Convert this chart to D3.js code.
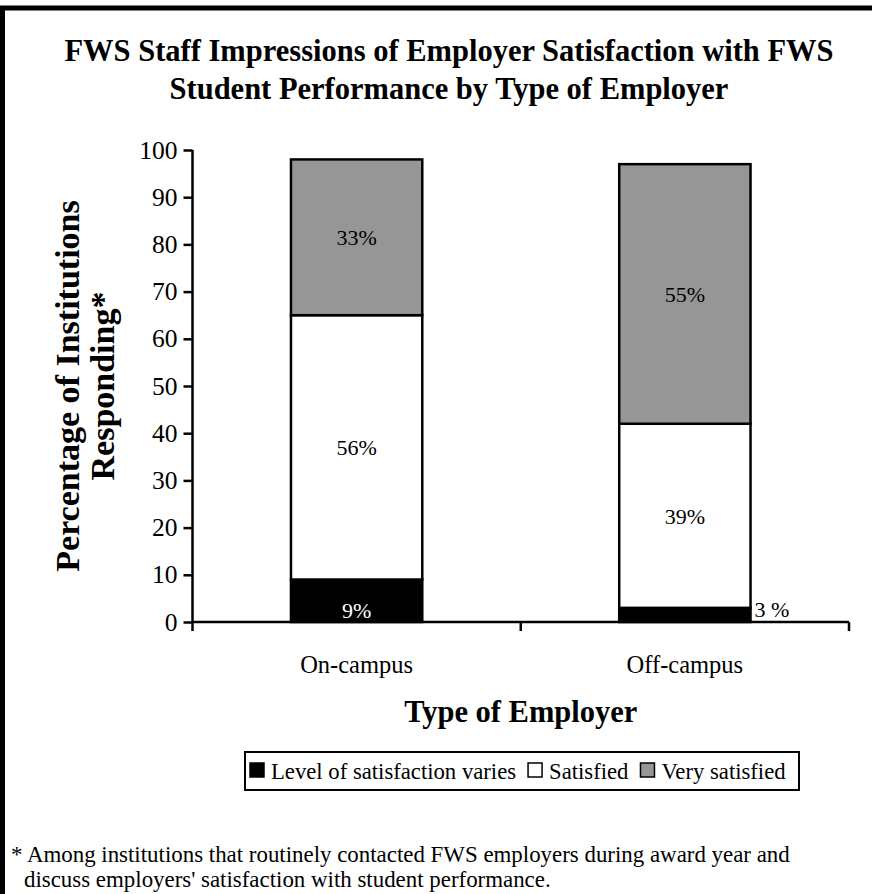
<!DOCTYPE html>
<html>
<head>
<meta charset="utf-8">
<script src="https://cdn.jsdelivr.net/npm/d3@7"></script>
<style>
  html, body { margin: 0; padding: 0; background: #fff; }
  svg { display: block; font-family: "Liberation Serif", "Times New Roman", serif; }
</style>
</head>
<body>
<svg id="chart" width="872" height="894"></svg>
<script>
// Employer types on the x axis
const categories = ["On-campus", "Off-campus"];
// Stacked series, percent of institutions responding
const seriesNames = ["Level of satisfaction varies", "Satisfied", "Very satisfied"];
const variesValues = [9, 3];
const satisfiedValues = [56, 39];
const verySatisfiedValues = [33, 55];
const seriesColors = ["#000000", "#ffffff", "#969696"];
const labelColors = ["#ffffff", "#000000", "#000000"];
const yTicks = [0, 10, 20, 30, 40, 50, 60, 70, 80, 90, 100];
const titleLines = ["FWS Staff Impressions of Employer Satisfaction with FWS",
                    "Student Performance by Type of Employer"];
const yTitleLines = ["Percentage of Institutions", "Responding*"];
const xTitle = "Type of Employer";
const footnoteLines = ["* Among institutions that routinely contacted FWS employers during award year and",
                       "discuss employers' satisfaction with student performance."];

const svg = d3.select("#chart");
const serif = "Liberation Serif";

// page frame (left and top rules)
svg.append("path")
  .attr("d", "M2.5,894 V8 H872")
  .attr("fill", "none").attr("stroke", "#000").attr("stroke-width", 5);

// title
svg.append("text")
  .attr("text-anchor", "middle")
  .attr("font-size", 30.5).attr("font-weight", "bold")
  .selectAll("tspan").data(titleLines).join("tspan")
  .attr("x", 449).attr("y", (d, i) => 61 + i * 38)
  .text(d => d);

const plot = { left: 192.5, right: 849, top: 150, bottom: 622 };

const x = d3.scaleBand().domain(categories)
  .range([plot.left, plot.right]).paddingInner(0.6).paddingOuter(0.3);
const xAxisScale = d3.scaleBand().domain(categories).range([plot.left, plot.right]);
const y = d3.scaleLinear().domain([0, 100]).range([plot.bottom, plot.top]);

// stack the three series
const rows = categories.map((c, i) => ({
  category: c,
  [seriesNames[0]]: variesValues[i],
  [seriesNames[1]]: satisfiedValues[i],
  [seriesNames[2]]: verySatisfiedValues[i]
}));
const stacked = d3.stack().keys(seriesNames)(rows);

const layers = svg.append("g").selectAll("g").data(stacked).join("g")
  .attr("fill", (d, i) => seriesColors[i]);

layers.selectAll("rect").data(d => d).join("rect")
  .attr("x", d => x(d.data.category))
  .attr("width", x.bandwidth())
  .attr("y", d => y(d[1]))
  .attr("height", d => y(d[0]) - y(d[1]))
  .attr("stroke", "#000").attr("stroke-width", 2.5);

// value labels: beside the bar for very thin segments, near the base for
// the bottom segment, centred otherwise
stacked.forEach((layer, si) => {
  layer.forEach(d => {
    const v = d[1] - d[0];
    const t = svg.append("text").attr("font-size", 22);
    if (v < 5) {
      t.attr("x", x(d.data.category) + x.bandwidth() + 4)
        .attr("y", y(d[0]) - 5)
        .attr("text-anchor", "start").attr("fill", "#000")
        .text(v + " %");
    } else if (si === 0) {
      t.attr("x", x(d.data.category) + x.bandwidth() / 2)
        .attr("y", y(d[0]) - 4)
        .attr("text-anchor", "middle").attr("fill", labelColors[si])
        .text(v + "%");
    } else {
      t.attr("x", x(d.data.category) + x.bandwidth() / 2)
        .attr("y", (y(d[0]) + y(d[1])) / 2)
        .attr("dy", "0.35em")
        .attr("text-anchor", "middle").attr("fill", labelColors[si])
        .text(v + "%");
    }
  });
});

// y axis
const yAxis = svg.append("g")
  .attr("transform", `translate(${plot.left},0)`)
  .call(d3.axisLeft(y).tickValues(yTicks).tickSize(9).tickPadding(6));
yAxis.attr("font-family", serif);
yAxis.select(".domain").attr("stroke-width", 2.5).attr("d", `M0,${plot.bottom}V${plot.top}`);
yAxis.selectAll(".tick line").attr("stroke-width", 2.5);
yAxis.selectAll(".tick text")
  .attr("font-size", 25.5).attr("fill", "#000");

// x axis: ticks at band boundaries
const xAxis = svg.append("g").attr("transform", `translate(0,${plot.bottom})`);
xAxis.append("line")
  .attr("x1", plot.left).attr("x2", plot.right)
  .attr("stroke", "#000").attr("stroke-width", 2.5);
const boundaries = [plot.left, ...categories.map(c => xAxisScale(c) + xAxisScale.bandwidth())];
xAxis.selectAll("line.tick").data(boundaries).join("line")
  .attr("class", "tick")
  .attr("x1", d => d).attr("x2", d => d).attr("y1", 0).attr("y2", 9)
  .attr("stroke", "#000").attr("stroke-width", 2.5);
xAxis.selectAll("text").data(categories).join("text")
  .attr("x", d => xAxisScale(d) + xAxisScale.bandwidth() / 2)
  .attr("y", 51)
  .attr("text-anchor", "middle").attr("font-size", 24.5)
  .text(d => d);

// axis titles
svg.append("text")
  .attr("transform", `translate(0,386) rotate(-90)`)
  .attr("text-anchor", "middle").attr("font-size", 34).attr("font-weight", "bold")
  .selectAll("tspan").data(yTitleLines).join("tspan")
  .attr("x", 0).attr("y", (d, i) => 79 + i * 35)
  .text(d => d);

svg.append("text")
  .attr("x", (plot.left + plot.right) / 2).attr("y", 722)
  .attr("text-anchor", "middle").attr("font-size", 30.5).attr("font-weight", "bold")
  .text(xTitle);

// legend
const legend = svg.append("g");
legend.append("rect")
  .attr("x", 245).attr("y", 752).attr("width", 554).attr("height", 38)
  .attr("fill", "#fff").attr("stroke", "#000").attr("stroke-width", 2);
let lx = 250;
seriesNames.forEach((name, i) => {
  legend.append("rect")
    .attr("x", lx).attr("y", 763).attr("width", 14).attr("height", 14)
    .attr("fill", seriesColors[i]).attr("stroke", "#000").attr("stroke-width", 1.5);
  const t = legend.append("text")
    .attr("x", lx + 21).attr("y", 779)
    .attr("font-size", 22.7)
    .text(name);
  lx += 21 + t.node().getComputedTextLength() + 12;
});

// footnote
svg.append("text")
  .attr("font-size", 22.9)
  .selectAll("tspan").data(footnoteLines).join("tspan")
  .attr("x", (d, i) => i === 0 ? 11 : 24)
  .attr("y", (d, i) => 862 + i * 25)
  .text(d => d);
</script>
</body>
</html>
